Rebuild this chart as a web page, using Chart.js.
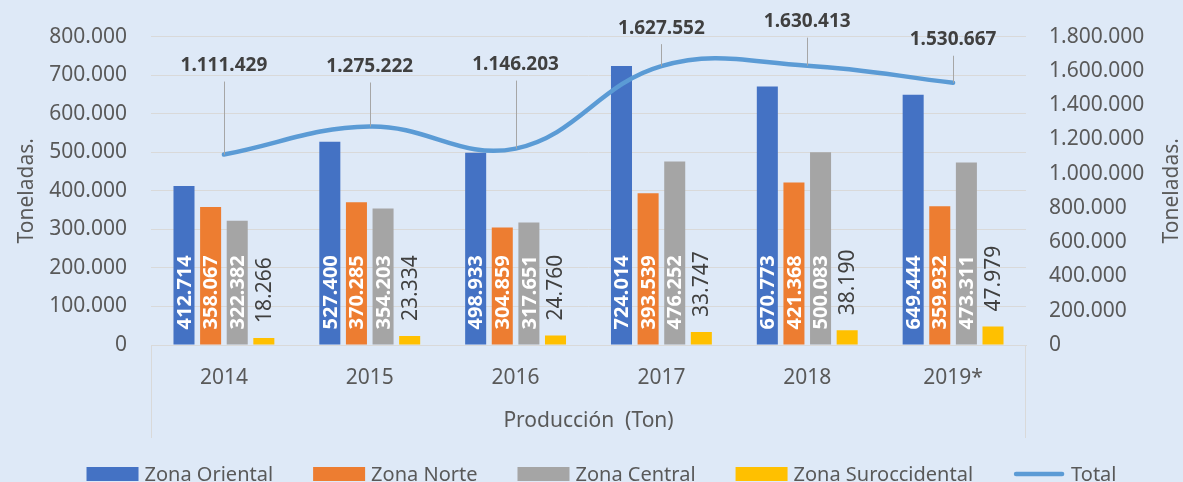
<!DOCTYPE html>
<html>
<head>
<meta charset="utf-8">
<script src="https://cdn.jsdelivr.net/npm/chart.js@4.4.0/dist/chart.umd.min.js"></script>
<style>
  html, body { margin: 0; padding: 0; background: #dee9f7; overflow: hidden; }
</style>
</head>
<body>
<canvas id="produccionChart" width="1183" height="482"></canvas>
<script>
var years = ['2014', '2015', '2016', '2017', '2018', '2019*'];
var zonaOriental = [412714, 527400, 498933, 724014, 670773, 649444];
var zonaNorte = [358067, 370285, 304859, 393539, 421368, 359932];
var zonaCentral = [322382, 354203, 317651, 476252, 500083, 473311];
var zonaSuroccidental = [18266, 23334, 24760, 33747, 38190, 47979];
var total = [1111429, 1275222, 1146203, 1627552, 1630413, 1530667];

// how far the total labels sit above their point (px), as placed in the original
var totalLabelLift = [89, 60, 84, 38, 44, 43];

var FONT = '"Noto Sans", sans-serif';
Chart.defaults.font.family = FONT;

function fmt(v) {
    return String(v).replace(/\B(?=(\d{3})+(?!\d))/g, '.');
}

// value labels: rotated inside the bars, leader-line labels for the total
var valueLabels = {
    id: 'valueLabels',
    afterDatasetsDraw: function (chart) {
        var ctx = chart.ctx;
        chart.data.datasets.forEach(function (ds, i) {
            var meta = chart.getDatasetMeta(i);
            meta.data.forEach(function (el, j) {
                var text = fmt(ds.data[j]);
                ctx.save();
                if (meta.type === 'bar') {
                    var inside = i < 3;
                    ctx.translate(el.x, inside ? el.base - 15 : el.y - 15);
                    ctx.rotate(-Math.PI / 2);
                    ctx.font = (inside ? 'bold 20px ' : '21px ') + FONT;
                    ctx.fillStyle = inside ? '#ffffff' : '#404040';
                    ctx.textAlign = 'left';
                    ctx.textBaseline = 'middle';
                    ctx.fillText(text, 0, 1);
                } else {
                    var ly = el.y - totalLabelLift[j];
                    var lx = Math.round(el.x) + 0.5;
                    ctx.strokeStyle = '#a6a6a6';
                    ctx.lineWidth = 1;
                    ctx.beginPath();
                    ctx.moveTo(lx, ly + 16);
                    ctx.lineTo(lx, el.y);
                    ctx.stroke();
                    ctx.font = 'bold 19px ' + FONT;
                    ctx.fillStyle = '#404040';
                    ctx.textAlign = 'center';
                    ctx.textBaseline = 'middle';
                    ctx.fillText(text, el.x, ly);
                }
                ctx.restore();
            });
        });
    }
};

// category frame, right axis title and legend
var extras = {
    id: 'extras',
    afterDraw: function (chart) {
        var ctx = chart.ctx;
        var area = chart.chartArea;
        var xs = chart.scales.x;

        ctx.save();
        ctx.strokeStyle = '#d9d9d9';
        ctx.lineWidth = 1;
        ctx.beginPath();
        ctx.moveTo(Math.round(area.left) + 0.5, area.bottom);
        ctx.lineTo(Math.round(area.left) + 0.5, xs.bottom - 2);
        ctx.moveTo(Math.round(area.right) - 0.5, area.bottom);
        ctx.lineTo(Math.round(area.right) - 0.5, xs.bottom - 2);
        ctx.stroke();

        // right axis title reads bottom to top like the left one
        ctx.translate(chart.width - 11, (area.top + area.bottom) / 2);
        ctx.rotate(-Math.PI / 2);
        ctx.font = '21px ' + FONT;
        ctx.fillStyle = '#595959';
        ctx.textAlign = 'center';
        ctx.textBaseline = 'middle';
        ctx.fillText('Toneladas.', 0, 0);
        ctx.restore();

        // legend
        ctx.save();
        ctx.font = '20px ' + FONT;
        var boxW = 52, gapText = 6, gapItem = 40;
        var sets = chart.data.datasets;
        var widths = sets.map(function (ds) {
            return boxW + gapText + ctx.measureText(ds.label).width;
        });
        var totalW = widths.reduce(function (a, b) { return a + b; }, 0) + gapItem * (sets.length - 1);
        var x = (chart.width - totalW) / 2 + 10;
        var y = 474;
        sets.forEach(function (ds, i) {
            if (ds.type === 'line') {
                ctx.strokeStyle = ds.borderColor;
                ctx.lineWidth = 4.5;
                ctx.lineCap = 'round';
                ctx.beginPath();
                ctx.moveTo(x + 3, y);
                ctx.lineTo(x + boxW - 3, y);
                ctx.stroke();
            } else {
                ctx.fillStyle = ds.backgroundColor;
                ctx.fillRect(x, y - 7, boxW, 14);
            }
            ctx.fillStyle = '#595959';
            ctx.textAlign = 'left';
            ctx.textBaseline = 'middle';
            ctx.fillText(ds.label, x + boxW + gapText, y + 1);
            x += widths[i] + gapItem;
        });
        ctx.restore();
    }
};

var ctx = document.getElementById('produccionChart').getContext('2d');

var chart = new Chart(ctx, {
    type: 'bar',
    data: {
        labels: years,
        datasets: [{
            label: 'Zona Oriental',
            backgroundColor: '#4472c4',
            data: zonaOriental,
            order: 1
        }, {
            label: 'Zona Norte',
            backgroundColor: '#ed7d31',
            data: zonaNorte,
            order: 1
        }, {
            label: 'Zona Central',
            backgroundColor: '#a5a5a5',
            data: zonaCentral,
            order: 1
        }, {
            label: 'Zona Suroccidental',
            backgroundColor: '#ffc000',
            data: zonaSuroccidental,
            order: 1
        }, {
            type: 'line',
            label: 'Total',
            borderColor: '#5b9bd5',
            backgroundColor: '#5b9bd5',
            borderWidth: 4.5,
            borderCapStyle: 'round',
            pointRadius: 0,
            tension: 0.4,
            fill: false,
            yAxisID: 'y1',
            data: total,
            order: 0
        }]
    },
    options: {
        responsive: false,
        animation: false,
        datasets: {
            bar: { categoryPercentage: 0.73, barPercentage: 0.79, borderWidth: 0 }
        },
        layout: { padding: { top: 35, right: 39, bottom: 42, left: 10 } },
        plugins: {
            legend: { display: false },
            tooltip: { enabled: false }
        },
        scales: {
            x: {
                afterFit: function (s) { s.height = 95; },
                grid: { display: false, drawTicks: false },
                border: { display: true, color: '#d9d9d9' },
                ticks: { color: '#595959', font: { size: 21 }, padding: 20 },
                title: {
                    display: true,
                    text: 'Producción  (Ton)',
                    color: '#595959',
                    font: { size: 21 },
                    padding: { top: 19, bottom: 6 }
                }
            },
            y: {
                position: 'left',
                min: 0,
                max: 800000,
                afterFit: function (s) { s.width = 141; },
                ticks: {
                    stepSize: 100000,
                    color: '#595959',
                    font: { size: 21 },
                    padding: 24,
                    callback: function (v) { return fmt(v); }
                },
                grid: { color: '#d9d9d9', drawTicks: false },
                border: { display: false },
                title: {
                    display: true,
                    text: 'Toneladas.',
                    color: '#595959',
                    font: { size: 21 },
                    padding: { top: 4, bottom: 10 }
                }
            },
            y1: {
                position: 'right',
                min: 0,
                max: 1800000,
                afterFit: function (s) { s.width = 118; },
                ticks: {
                    stepSize: 200000,
                    color: '#595959',
                    font: { size: 21 },
                    padding: 23,
                    callback: function (v) { return fmt(v); }
                },
                grid: { display: false, drawTicks: false },
                border: { display: false }
            }
        }
    },
    plugins: [valueLabels, extras]
});
</script>
</body>
</html>
